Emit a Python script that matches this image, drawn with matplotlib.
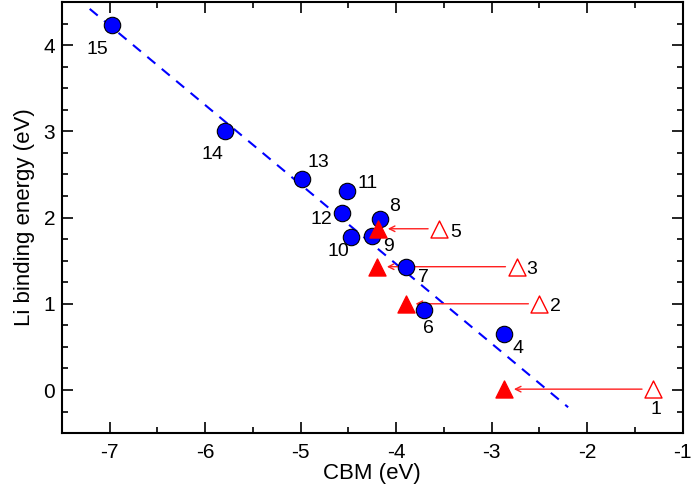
import matplotlib
matplotlib.use('Agg')
import matplotlib.pyplot as plt
from matplotlib.ticker import MultipleLocator

plt.rcParams['font.family'] = ['Liberation Sans', 'DejaVu Sans']
plt.rcParams['axes.unicode_minus'] = False

# blue circles: CBM vs Li binding energy
circ_ids = ['15', '14', '13', '11', '12', '8', '10', '9', '7', '6', '4']
circ_x = [-6.98, -5.79, -4.99, -4.52, -4.57, -4.17, -4.47, -4.25, -3.90, -3.71, -2.87]
circ_y = [4.23, 3.00, 2.45, 2.31, 2.05, 1.98, 1.78, 1.79, 1.43, 0.93, 0.65]
circ_off = [(-14, -24), (-13, -23), (17, 16), (21, 7), (-20, -6), (15, 13),
            (-13, -15), (16, -11), (18, -11), (5, -19), (14, -15)]

# triangles: open (start) -> filled (end)
tri_ids = ['5', '3', '2', '1']
open_x = [-3.55, -2.74, -2.50, -1.31]
filled_x = [-4.19, -4.20, -3.90, -2.87]
tri_y = [1.87, 1.43, 1.00, 0.01]
tri_off = [(16, -4), (15, -3), (16, -3), (3, -20)]

# dashed linear fit
fit_x = [-7.21, -2.20]
fit_y = [4.42, -0.20]

fig = plt.figure(figsize=(6.92, 4.95), dpi=100)
ax = fig.add_axes([0.0896, 0.125, 0.897, 0.871])

ax.plot(fit_x, fit_y, '--', color='#0000ff', lw=1.5, dashes=(5, 4))

for x0, x1, y in zip(open_x, filled_x, tri_y):
    ax.annotate('', xy=(x1, y), xytext=(x0, y),
                arrowprops=dict(arrowstyle='->', color='#ff2020', lw=1.0,
                                shrinkA=8, shrinkB=7))

ax.scatter(circ_x, circ_y, s=140, color='#0000ff', edgecolor='black',
           linewidth=0.8, zorder=3)
ax.scatter(filled_x, tri_y, s=150, marker='^', color='#ff0000', zorder=4)
ax.scatter(open_x, tri_y, s=150, marker='^', facecolor='white',
           edgecolor='#ff0000', linewidth=1.0, zorder=4)

for lab, x, y, off in zip(circ_ids, circ_x, circ_y, circ_off):
    ax.annotate(lab, (x, y), xytext=off, textcoords='offset pixels',
                ha='center', va='center', fontsize=14)
for lab, x, y, off in zip(tri_ids, open_x, tri_y, tri_off):
    ax.annotate(lab, (x, y), xytext=off, textcoords='offset pixels',
                ha='center', va='center', fontsize=14)

ax.set_xlim(-7.5, -1)
ax.set_ylim(-0.5, 4.5)
ax.xaxis.set_major_locator(MultipleLocator(1))
ax.xaxis.set_minor_locator(MultipleLocator(0.5))
ax.yaxis.set_major_locator(MultipleLocator(1))
ax.yaxis.set_minor_locator(MultipleLocator(0.25))
ax.tick_params(which='both', direction='in', top=True, right=True,
               labelsize=15, width=1.2)
ax.tick_params(axis='x', which='major', length=8, pad=7)
ax.tick_params(axis='y', which='major', length=8, pad=5)
ax.tick_params(which='minor', length=4)
for sp in ax.spines.values():
    sp.set_linewidth(1.5)

ax.set_xlabel('CBM (eV)', fontsize=16, labelpad=1)
ax.set_ylabel('Li binding energy (eV)', fontsize=16, labelpad=6)

fig.savefig('out.png', dpi=100)
